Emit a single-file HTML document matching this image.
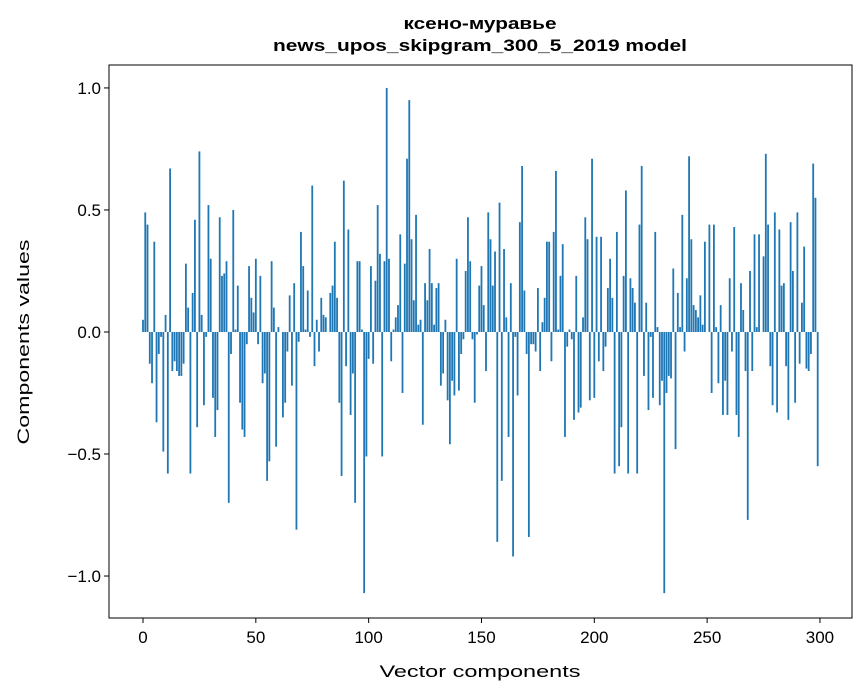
<!DOCTYPE html>
<html><head><meta charset="utf-8"><style>
body{margin:0;background:#fff;}
svg{display:block;font-family:"Liberation Sans","DejaVu Sans",sans-serif;}
</style></head><body>
<svg id="chart" width="867" height="696">
<text x="480" y="29" text-anchor="middle" font-size="17" font-weight="bold" textLength="153" lengthAdjust="spacingAndGlyphs">ксено-муравье</text>
<text x="480" y="51" text-anchor="middle" font-size="17" font-weight="bold" textLength="414" lengthAdjust="spacingAndGlyphs">news_upos_skipgram_300_5_2019 model</text>
<g id="bars"></g>
<rect x="109" y="65" width="743" height="553" fill="none" stroke="#000" stroke-width="1"/>
<g id="xticks"></g>
<g id="yticks"></g>
<text x="480" y="677" text-anchor="middle" font-size="17" textLength="201" lengthAdjust="spacingAndGlyphs">Vector components</text>
<text transform="translate(29,342) rotate(-90)" text-anchor="middle" font-size="17" textLength="205" lengthAdjust="spacingAndGlyphs">Components values</text>
</svg>
<script>
const values = [0.05,0.49,0.44,-0.13,-0.21,0.37,-0.37,-0.09,-0.02,-0.49,0.07,-0.58,0.67,-0.16,-0.12,-0.16,-0.18,-0.18,-0.13,0.28,0.10,-0.58,0.16,0.46,-0.39,0.74,0.07,
-0.30,-0.02,0.52,0.30,-0.27,-0.43,-0.32,0.47,0.23,0.24,0.29,-0.70,-0.09,0.50,0.01,0.19,-0.29,-0.40,-0.43,-0.05,0.27,0.14,0.08,0.30,-0.05,0.23,-0.21,
-0.17,-0.61,-0.53,0.29,0.10,-0.47,0.02,0,-0.35,-0.29,-0.08,0.15,-0.22,0.20,-0.81,-0.04,0.41,0.27,0.01,0.17,-0.02,0.60,-0.14,0.05,-0.08,0.14,0.07,
0.06,0,0.16,0.19,0.37,0.14,-0.29,-0.59,0.62,-0.14,0.42,-0.34,-0.17,-0.70,0.29,0.29,0.01,-1.07,-0.51,-0.11,0.27,-0.13,0.21,0.52,0.32,-0.51,0.29,
1.0,0.30,-0.12,0.01,0.06,0.11,0.40,-0.25,0.28,0.71,0.95,0.38,0.13,0.48,0.03,0.05,-0.38,0.20,0.13,0.34,0.20,0.03,0.18,0.20,-0.22,-0.17,0.05,
-0.28,-0.46,-0.20,-0.26,0.30,-0.24,-0.09,-0.03,0.25,0.47,0.29,-0.03,-0.29,-0.01,0.19,0.27,0.11,-0.16,0.49,0.38,0.19,0.33,-0.86,0.53,-0.61,0.34,0.06,
-0.43,0.20,-0.92,-0.02,-0.26,0.45,0.68,0.17,-0.09,-0.84,-0.05,-0.05,-0.08,0.18,-0.16,0.04,0.14,0.37,0.37,-0.12,0.41,0.66,0.01,0.23,0.36,-0.43,-0.06,
0.01,-0.03,-0.36,0.23,-0.33,-0.31,0.06,0.47,0.38,-0.28,0.71,-0.27,0.39,-0.12,0.39,-0.16,-0.06,0.18,0.30,0.14,-0.58,0.41,-0.55,-0.39,0.23,0.58,-0.58,
0.22,0.18,0.12,-0.58,0.44,0.68,-0.18,0.12,-0.32,-0.02,-0.27,0.41,0.02,-0.30,-0.20,-1.07,-0.25,-0.18,-0.19,0.26,-0.48,0.16,0.02,0.48,-0.08,0.22,0.72,
0.38,0.11,0.09,0.06,0.15,0.03,0.37,0,0.44,-0.25,0.44,0.02,-0.21,0.11,-0.34,-0.20,-0.34,0.22,-0.08,0.43,-0.34,-0.43,0.20,0.09,-0.16,-0.77,0.25,-0.16,
0.40,0.02,0.40,0,0.31,0.73,0.44,-0.14,-0.30,0.49,-0.33,0.42,0.19,0.20,-0.14,-0.36,0.45,0.25,-0.29,0.49,-0.13,0.12,0.35,-0.15,-0.16,-0.09,0.69,0.55,-0.55];
const xTicks = [0,50,100,150,200,250,300];
const yTicks = [1.0,0.5,0.0,-0.5,-1.0];
const yTickLabels = ["1.0","0.5","0.0","\u22120.5","\u22121.0"];

const NS="http://www.w3.org/2000/svg";
const X0=109,X1=852,Y0=65,Y1=618;
const xMin=-15.07,xMax=314.2,yMin=-1.172,yMax=1.094;
function xs(v){return X0+(v-xMin)/(xMax-xMin)*(X1-X0);}
function ys(v){return Y1-(v-yMin)/(yMax-yMin)*(Y1-Y0);}
const bars=document.getElementById('bars');
values.forEach((v,i)=>{
  const r=document.createElementNS(NS,'rect');
  const w=xs(0.8)-xs(0);
  r.setAttribute('x',xs(i-0.4));
  r.setAttribute('width',w);
  r.setAttribute('y',Math.min(ys(v),ys(0)));
  r.setAttribute('height',Math.abs(ys(v)-ys(0)));
  r.setAttribute('fill','#1f77b4');
  
  
  bars.appendChild(r);
});
const xg=document.getElementById('xticks');
xTicks.forEach(t=>{
  const l=document.createElementNS(NS,'line');
  l.setAttribute('x1',xs(t));l.setAttribute('x2',xs(t));
  l.setAttribute('y1',Y1);l.setAttribute('y2',Y1+5);
  l.setAttribute('stroke','#000');
  
  
  xg.appendChild(l);
  const tx=document.createElementNS(NS,'text');
  tx.setAttribute('x',xs(t));tx.setAttribute('y',Y1+25);
  tx.setAttribute('text-anchor','middle');tx.setAttribute('font-size','17');
  tx.textContent=t;
  
  
  xg.appendChild(tx);
});
const yg=document.getElementById('yticks');
yTicks.forEach((t,k)=>{
  const l=document.createElementNS(NS,'line');
  l.setAttribute('x1',X0-5);l.setAttribute('x2',X0);
  l.setAttribute('y1',ys(t));l.setAttribute('y2',ys(t));
  l.setAttribute('stroke','#000');
  
  
  yg.appendChild(l);
  const tx=document.createElementNS(NS,'text');
  tx.setAttribute('x',X0-8);tx.setAttribute('y',ys(t)+6);
  tx.setAttribute('text-anchor','end');tx.setAttribute('font-size','17');
  tx.textContent=yTickLabels[k];
  
  
  yg.appendChild(tx);
});
</script>
</body></html>
